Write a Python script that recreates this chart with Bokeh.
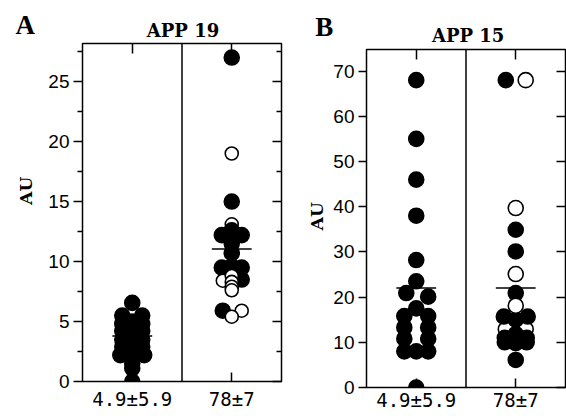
import math
from bokeh.plotting import figure
from bokeh.models import Range1d, LinearAxis, FixedTicker, Span, Label, ColumnDataSource
from bokeh.layouts import row, column
from bokeh.embed import file_html
from bokeh.resources import INLINE

# ---------------- data ----------------
group_labels = ["4.9±5.9", "78±7"]

# Panel A (APP 19): group (1/2), value, jitter, filled(1)/open(0) -- listed in drawing order
a_group = [1]*20 + [2]*21
a_value = [6.55, 5.5, 5.5, 5.0, 4.8, 4.8, 4.2, 4.2, 3.8, 3.5, 3.5, 2.9, 2.9, 2.6, 2.2, 2.2, 2.2, 1.5, 1.1, 0.0,
           13.1, 27.0, 15.0, 12.2, 12.6, 12.2, 11.5, 10.7, 9.5, 9.6, 9.5, 8.5, 5.9,
           19.0, 8.4, 8.8, 8.3, 7.9, 7.6, 5.9, 5.4]
a_jitter = [0, -0.1, 0.1, 0, -0.1, 0.1, -0.1, 0.1, 0, -0.1, 0.1, -0.1, 0.1, 0, -0.12, 0, 0.12, 0, 0, 0,
            0, 0, 0, -0.1, 0, 0.1, 0, 0, -0.1, 0, 0.1, 0.1, -0.09,
            0, -0.09, 0, 0, 0, 0, 0.1, 0]
a_filled = [1]*20 + [0] + [1]*12 + [0]*8
a_means = [3.8, 11.05]

# Panel B (APP 15)
b_group = [1]*19 + [2]*20
b_value = [68, 55, 46, 38, 28.2, 23.5, 20.9, 20.1, 17.5, 15.8, 15.8, 13.3, 13.3, 10.8, 10.8, 8.0, 8.0, 8.0, 0.0,
           12.9, 12.9, 68, 34.9, 30.1, 20.9, 15.7, 15.7, 15.0, 11.8, 11.0, 11.0, 10.0, 10.0, 9.8, 6.1,
           68, 39.7, 25.1, 18.1]
b_jitter = [0, 0, 0, 0, 0, 0, -0.1, 0.12, 0, -0.12, 0.12, -0.12, 0.12, -0.12, 0.12, -0.12, 0, 0.12, 0,
            -0.1, 0.1, -0.1, 0, 0, 0, -0.12, 0.12, 0, 0, -0.11, 0.11, -0.11, 0.11, 0, 0,
            0.1, 0, 0, 0]
b_filled = [1]*19 + [0, 0] + [1]*14 + [0]*4
b_means = [22.0, 22.0]

a_major = [0, 5, 10, 15, 20, 25]
a_minor = [2.5, 7.5, 12.5, 17.5, 22.5, 27.5]
b_major = [0, 10, 20, 30, 40, 50, 60, 70]
group_pos = [1, 2]


def blank_fig(w, h):
    f = figure(width=w, height=h, output_backend="svg", toolbar_location=None, title=None,
               x_range=Range1d(0, w), y_range=Range1d(0, h),
               x_axis_location=None, y_axis_location=None, min_border=0)
    f.xgrid.visible = False
    f.ygrid.visible = False
    f.outline_line_color = None
    f.background_fill_color = "white"
    f.border_fill_color = "white"
    return f


def tick_only_axis(ticks, minor, tin, minor_in):
    ax = LinearAxis(ticker=FixedTicker(ticks=ticks, minor_ticks=minor))
    ax.axis_line_color = None
    ax.major_tick_out = 0
    ax.major_tick_in = tin
    ax.minor_tick_out = 0
    ax.minor_tick_in = minor_in
    ax.major_tick_line_width = 1.5
    ax.minor_tick_line_width = 1.5
    ax.major_tick_line_color = "black"
    ax.minor_tick_line_color = "black"
    ax.major_label_text_font_size = "0px"
    ax.major_label_text_color = None
    ax.major_label_standoff = 0
    return ax


def make_main(width, height, borders, ymax, major, minor, groups, values, jitter, filled, means,
              open_size, tick_out, bottom_standoff):
    left, right, top, bottom = borders
    p = figure(width=width, height=height, output_backend="svg", toolbar_location=None,
               title=None, x_range=Range1d(0.5, 2.5), y_range=Range1d(0, ymax),
               x_axis_location=None, y_axis_location=None, min_border=0,
               min_border_left=left, min_border_right=right, min_border_top=top, min_border_bottom=bottom)
    p.xgrid.visible = False
    p.ygrid.visible = False
    p.outline_line_color = "black"
    p.outline_line_width = 1.5
    p.background_fill_color = "white"
    p.border_fill_color = "white"

    la = LinearAxis(ticker=FixedTicker(ticks=major, minor_ticks=minor))
    la.axis_line_color = None
    la.major_tick_out = tick_out
    la.major_tick_in = 0
    la.minor_tick_out = 5
    la.minor_tick_in = 0
    la.major_tick_line_width = 1.5
    la.minor_tick_line_width = 1.5
    la.major_tick_line_color = "black"
    la.minor_tick_line_color = "black"
    la.major_label_text_font = "Liberation Sans"
    la.major_label_text_font_size = "19px"
    la.major_label_text_color = "black"
    la.major_label_standoff = 4
    p.add_layout(la, "left")

    p.add_layout(tick_only_axis(major, minor, 9, 5), "right")
    p.add_layout(tick_only_axis(group_pos, [], 10, 0), "above")

    ba = LinearAxis(ticker=FixedTicker(ticks=group_pos, minor_ticks=[]))
    ba.axis_line_color = None
    ba.major_tick_out = 0
    ba.major_tick_in = 9
    ba.major_tick_line_width = 1.5
    ba.major_tick_line_color = "black"
    ba.major_label_overrides = {g: lab for g, lab in zip(group_pos, group_labels)}
    ba.major_label_text_font = "DejaVu Sans Mono"
    ba.major_label_text_font_size = "19px"
    ba.major_label_text_color = "black"
    ba.major_label_standoff = bottom_standoff
    p.add_layout(ba, "below")

    p.add_layout(Span(location=1.5, dimension="height", line_color="black", line_width=1.5))

    xs = [g + j for g, j in zip(groups, jitter)]
    fills = ["black" if f else "white" for f in filled]
    sizes = [15 if f else open_size for f in filled]
    src = ColumnDataSource(dict(x=xs, y=values, fill=fills, size=sizes))
    p.scatter("x", "y", source=src, size="size", fill_color="fill", line_color="black", line_width=1.6)

    p.segment(x0=[g - 0.2 for g in group_pos], x1=[g + 0.2 for g in group_pos], y0=means, y1=means,
              line_color="black", line_width=1.5)
    return p


def make_panel(total_w, total_h, head_h, au_w, letter, title, letter_pos, title_pos, au_pos, main_args):
    head = blank_fig(total_w, head_h)
    head.add_layout(Label(x=letter_pos[0], y=letter_pos[1], text=letter, text_font="Liberation Serif",
                          text_font_style="bold", text_font_size="27px", text_align="left",
                          text_baseline="middle", text_color="black"))
    head.add_layout(Label(x=title_pos[0], y=title_pos[1], text=title, text_font="DejaVu Serif",
                          text_font_style="bold", text_font_size="18px", text_align="center",
                          text_baseline="middle", text_color="black"))
    low_h = total_h - head_h
    au = blank_fig(au_w, low_h)
    au.add_layout(Label(x=au_pos[0], y=au_pos[1], text="AU", text_font="DejaVu Serif",
                        text_font_style="bold", text_font_size="17px", text_align="center",
                        text_baseline="middle", angle=math.pi / 2, text_color="black"))
    main = make_main(total_w - au_w, low_h, *main_args)
    return column(head, row(au, main, spacing=0), spacing=0)


panel_a = make_panel(283, 414, 42, 45, "A", "APP 19", (15, 18), (182.5, 12), (25, 210),
                     ((37, 2, 1, 33), 28.17, a_major, a_minor, a_group, a_value, a_jitter, a_filled,
                      a_means, 13, 9, 6))
panel_b = make_panel(283, 414, 47, 45, "B", "APP 15", (31.7, 20.7), (184.7, 12), (33, 186),
                     ((38, 1, 2, 27), 74.78, b_major, [], b_group, b_value, b_jitter, b_filled,
                      b_means, 15, 8, 1))

layout = row(panel_a, panel_b, spacing=0)
open("out.html", "w").write(file_html(layout, INLINE))
